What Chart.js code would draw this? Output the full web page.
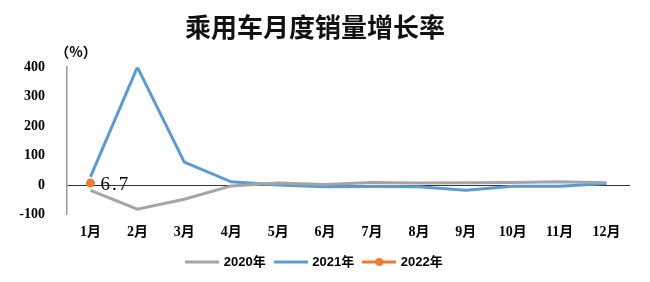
<!DOCTYPE html>
<html>
<head>
<meta charset="utf-8">
<script src="https://cdn.jsdelivr.net/npm/chart.js@4"></script>
<style>
    html, body { margin: 0; padding: 0; background: #fff; }
    #wrap { width: 650px; height: 282px; }
</style>
</head>
<body>
<div id="wrap"><canvas id="growthChart" width="650" height="282"></canvas></div>
<script>
// 데이터
const months = ['1月', '2月', '3月', '4月', '5月', '6月', '7月', '8月', '9月', '10月', '11月', '12月'];
const growth2020 = [-18, -82, -48, -3, 7, 2, 9, 7, 8, 9, 11, 8];
const growth2021 = [28, 400, 78, 11, 0, -6, -5, -6, -18, -4, -4, 5];
const growth2022 = [6.7];
const seriesNames = ['2020年', '2021年', '2022年'];
const yTicks = [-100, 0, 100, 200, 300, 400];

const GRAY = '#a5a5a5';
const BLUE = '#5b9bd5';
const ORANGE = '#ed7d31';

// 범례 아이콘 (선 + 점)
function legendIcon(color, withDot) {
    const c = document.createElement('canvas');
    c.width = 34;
    c.height = 10;
    const g = c.getContext('2d');
    g.strokeStyle = color;
    g.lineWidth = 3;
    g.beginPath();
    g.moveTo(0, 5);
    g.lineTo(34, 5);
    g.stroke();
    if (withDot) {
        g.fillStyle = color;
        g.beginPath();
        g.arc(17, 5, 4, 0, Math.PI * 2);
        g.fill();
    }
    return c;
}

// (%) 단위 + 6.7 라벨
const extraText = {
    id: 'extraText',
    afterDatasetsDraw(chart) {
        const ctx = chart.ctx;
        ctx.save();
        ctx.fillStyle = '#000';
        ctx.font = 'bold 14px "Noto Sans CJK SC"';
        ctx.textAlign = 'center';
        ctx.textBaseline = 'middle';
        ctx.fillText('（%）', 76, 52);

        const pt = chart.getDatasetMeta(2).data[0];
        ctx.font = '19px "Liberation Serif"';
        ctx.letterSpacing = '2px';
        ctx.textAlign = 'left';
        ctx.fillText(String(growth2022[0]), pt.x + 10, pt.y + 2);
        ctx.restore();
    }
};

const tickFont = { family: '"Liberation Serif", "Noto Sans CJK SC"', size: 14, weight: 'bold' };

new Chart(document.getElementById('growthChart').getContext('2d'), {
    type: 'line',
    data: {
        labels: months,
        datasets: [
            {
                label: seriesNames[0],
                data: growth2020,
                borderColor: GRAY,
                backgroundColor: GRAY,
                borderWidth: 3,
                pointRadius: 0,
                tension: 0,
                pointStyle: legendIcon(GRAY, false)
            },
            {
                label: seriesNames[1],
                data: growth2021,
                borderColor: BLUE,
                backgroundColor: BLUE,
                borderWidth: 3,
                pointRadius: 0,
                tension: 0,
                pointStyle: legendIcon(BLUE, false)
            },
            {
                label: seriesNames[2],
                data: growth2022,
                borderColor: ORANGE,
                backgroundColor: ORANGE,
                borderWidth: 3,
                pointRadius: 4.5,
                pointBorderWidth: 0,
                pointStyle: 'circle',
                tension: 0
            }
        ]
    },
    options: {
        responsive: false,
        animation: false,
        layout: { padding: { left: 0, right: 20, top: 0, bottom: 3.5 } },
        scales: {
            x: {
                offset: true,
                grid: { display: false, drawTicks: false, offset: true },
                border: { display: false },
                ticks: { color: '#000', font: tickFont, padding: 9, maxRotation: 0 },
                afterFit: (scale) => { scale.height = 31; }
            },
            y: {
                min: -100,
                max: 400,
                afterBuildTicks: (scale) => { scale.ticks = yTicks.map(v => ({ value: v })); },
                grid: {
                    drawTicks: false,
                    color: (c) => (c.tick && c.tick.value === 0 ? '#333' : 'rgba(0,0,0,0)'),
                    lineWidth: 1
                },
                border: { display: true, color: '#999', width: 1.5 },
                ticks: { color: '#000', font: tickFont, padding: 22 },
                afterFit: (scale) => { scale.width = 67; }
            }
        },
        plugins: {
            title: {
                display: true,
                text: '乘用车月度销量增长率',
                color: '#111',
                font: { family: '"Noto Sans CJK SC"', size: 26, weight: 'bold' },
                padding: { top: 12, bottom: 24 }
            },
            legend: {
                position: 'bottom',
                labels: {
                    usePointStyle: true,
                    pointStyleWidth: 30,
                    boxHeight: 10,
                    padding: 10,
                    color: '#000',
                    font: { family: '"Liberation Sans", "Noto Sans CJK SC"', size: 13, weight: 'bold' },
                    generateLabels: (chart) => chart.data.datasets.map((ds, i) => ({
                        text: ds.label,
                        pointStyle: i === 2 ? legendIcon(ORANGE, true) : ds.pointStyle,
                        fillStyle: ds.borderColor,
                        strokeStyle: ds.borderColor,
                        lineWidth: 0,
                        fontColor: '#000',
                        hidden: false,
                        datasetIndex: i
                    }))
                }
            },
            tooltip: { enabled: false }
        }
    },
    plugins: [extraText]
});
</script>
</body>
</html>
